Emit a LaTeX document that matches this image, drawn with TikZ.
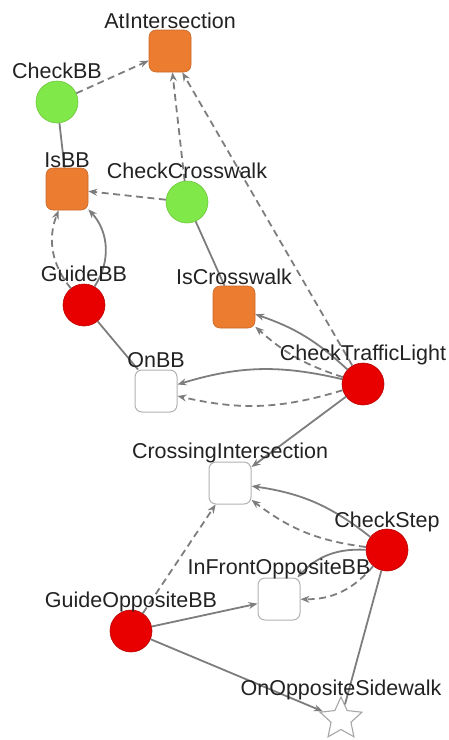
\documentclass[tikz,border=0pt]{standalone}
\usepackage{fontspec}
\setmainfont{Liberation Sans}
\usetikzlibrary{arrows.meta,shapes.geometric}
\definecolor{orng}{RGB}{236,124,48}
\definecolor{grn}{RGB}{128,232,72}
\definecolor{rd}{RGB}{232,0,0}
\definecolor{edg}{RGB}{125,125,125}
\definecolor{txt}{RGB}{34,34,34}
\begin{document}
\begin{tikzpicture}[x=1pt,y=-1pt,
  sq/.style={rectangle,rounded corners=7pt,minimum size=42pt,inner sep=0pt},
  orangebox/.style={sq,fill=orng,draw=orng!85!black,line width=0.6pt},
  whitebox/.style={sq,fill=white,draw=gray!60,line width=1pt},
  circ/.style={circle,minimum size=42pt,inner sep=0pt},
  greenc/.style={circ,fill=grn,draw=grn!85!black,line width=0.6pt},
  redc/.style={circ,fill=rd,draw=rd!80!black,line width=0.6pt},
  starnode/.style={star,star points=5,star point ratio=2.1,minimum size=44pt,inner sep=0pt,fill=white,draw=gray!70,line width=1.1pt},
  lab/.style={anchor=base,text=txt,font=\fontsize{21.5}{24}\selectfont,inner sep=0pt},
  edge/.style={draw=edg,line width=1.8pt},
  arr/.style={edge,-{Stealth[length=9pt,width=7pt]}},
  darr/.style={arr,dash pattern=on 7pt off 4.5pt}]
\useasboundingbox (0,0) rectangle (449,740);
% nodes
\node[orangebox] (ati) at (170,51) {};
\node[greenc] (cbb) at (57,102) {};
\node[orangebox] (isbb) at (67,189) {};
\node[greenc] (ccw) at (187,202) {};
\node[redc] (gbb) at (84,305) {};
\node[orangebox] (iscw) at (234,307) {};
\node[whitebox] (onbb) at (156,391) {};
\node[redc] (ctl) at (363,384) {};
\node[whitebox] (ci) at (230,483) {};
\node[redc] (cs) at (387,550) {};
\node[whitebox] (ifo) at (279,599) {};
\node[redc] (gob) at (131,631) {};
\node[starnode] (oos) at (341,719) {};
% edges
\draw[darr] (cbb) -- (ati);
\draw[edge] (cbb) -- (isbb);
\draw[darr] (ccw) -- (isbb);
\draw[darr] (ccw) -- (ati);
\draw[darr] (ctl) -- (ati);
\draw[edge] (ccw) -- (iscw);
\draw[darr] (gbb) to[bend left=30] (isbb);
\draw[arr] (gbb) to[bend right=38] (isbb);
\draw[edge] (gbb) -- (onbb);
\draw[arr] (ctl) to[bend right=12] (iscw);
\draw[darr] (ctl) to[bend left=12] (iscw);
\draw[arr] (ctl) to[bend right=15] (onbb);
\draw[darr] (ctl) to[bend left=15] (onbb);
\draw[arr] (ctl) -- (ci);
\draw[arr] (cs) to[bend right=15] (ci);
\draw[darr] (cs) to[bend left=15] (ci);
\draw[arr] (cs) to[bend right=25] (ifo);
\draw[darr] (cs) to[bend left=25] (ifo);
\draw[edge] (cs) -- (oos);
\draw[darr] (gob) -- (ci);
\draw[arr] (gob) -- (ifo);
\draw[arr] (gob) -- (oos);
% labels
\node[lab] (l-ati) at ([yshift=22.5pt]ati.center) {AtIntersection};
\node[lab] (l-cbb) at ([yshift=24pt]cbb.center) {CheckBB};
\node[lab] (l-isbb) at ([yshift=21.5pt]isbb.center) {IsBB};
\node[lab] (l-ccw) at ([yshift=24pt]ccw.center) {CheckCrosswalk};
\node[lab] (l-gbb) at ([yshift=24pt]gbb.center) {GuideBB};
\node[lab] (l-iscw) at ([yshift=22.5pt]iscw.center) {IsCrosswalk};
\node[lab] (l-onbb) at ([yshift=23.5pt]onbb.center) {OnBB};
\node[lab] (l-ctl) at ([yshift=23.5pt]ctl.center) {CheckTrafficLight};
\node[lab] (l-ci) at ([yshift=25pt]ci.center) {CrossingIntersection};
\node[lab] (l-cs) at ([yshift=22.5pt]cs.center) {CheckStep};
\node[lab] (l-ifo) at ([yshift=25pt]ifo.center) {InFrontOppositeBB};
\node[lab] (l-gob) at ([yshift=24pt]gob.center) {GuideOppositeBB};
\node[lab] (l-oos) at ([yshift=24pt]oos.center) {OnOppositeSidewalk};
\end{tikzpicture}
\end{document}
